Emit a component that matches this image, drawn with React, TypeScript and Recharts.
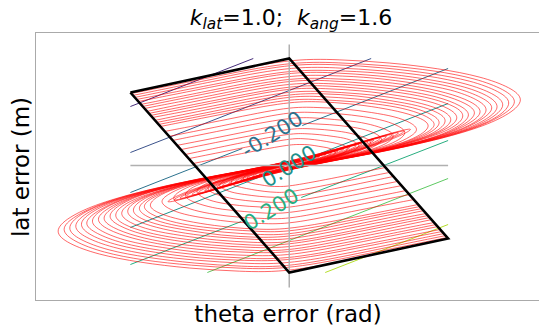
import React from 'react'
import { Scatter, ScatterChart, XAxis, YAxis } from 'recharts'

// trajectories, flat [theta, lat, theta, lat, ...]; upper family starts on the left edge
const upperTrajectories: number[][] = [
  [-1.59, 0.73, -0.8, 0.9, 0, 1.07, 0.5, 1.06, 1.0, 1.03, 1.5, 0.97, 1.92, 0.89, 2.22, 0.78, 2.36, 0.66, 2.22, 0.52, 1.92, 0.38, 1.45, 0.25, 0.95, 0.14, 0.45, 0.05, 0, -0.04, -0.5, -0.17, -1.0, -0.32, -1.32, -0.4, -1.0, -0.24, -0.5, -0.09, 0, 0.04],
  [-1.58, 0.72, -0.79, 0.88, 0, 1.04, 0.49, 1.03, 0.98, 1.0, 1.46, 0.95, 1.87, 0.87, 2.16, 0.76, 2.3, 0.64, 2.16, 0.51, 1.87, 0.37, 1.41, 0.24, 0.93, 0.14, 0.44, 0.05, 0, -0.04],
  [-1.57, 0.7, -0.78, 0.86, 0, 1.02, 0.48, 1.01, 0.95, 0.98, 1.43, 0.92, 1.82, 0.85, 2.11, 0.74, 2.24, 0.63, 2.11, 0.49, 1.82, 0.36, 1.38, 0.24, 0.9, 0.13, 0.43, 0.05, 0, -0.04, -0.48, -0.16, -0.95, -0.3, -1.25, -0.38, -0.95, -0.23, -0.48, -0.09, 0, 0.04],
  [-1.55, 0.68, -0.77, 0.84, 0, 0.99, 0.46, 0.98, 0.93, 0.95, 1.39, 0.9, 1.78, 0.82, 2.05, 0.72, 2.18, 0.61, 2.05, 0.48, 1.78, 0.35, 1.34, 0.23, 0.88, 0.13, 0.42, 0.05, 0, -0.04],
  [-1.53, 0.66, -0.76, 0.81, 0, 0.96, 0.45, 0.95, 0.9, 0.93, 1.35, 0.87, 1.73, 0.8, 2.0, 0.7, 2.12, 0.59, 2.0, 0.47, 1.73, 0.34, 1.31, 0.23, 0.86, 0.13, 0.41, 0.05, 0, -0.04, -0.45, -0.15, -0.9, -0.29, -1.19, -0.36, -0.9, -0.22, -0.45, -0.08, 0, 0.04],
  [-1.51, 0.64, -0.75, 0.79, 0, 0.94, 0.44, 0.93, 0.88, 0.9, 1.31, 0.85, 1.68, 0.78, 1.94, 0.68, 2.07, 0.58, 1.94, 0.46, 1.68, 0.33, 1.27, 0.22, 0.83, 0.12, 0.39, 0.04, 0, -0.04],
  [-1.49, 0.61, -0.74, 0.76, 0, 0.91, 0.43, 0.9, 0.85, 0.88, 1.28, 0.82, 1.63, 0.76, 1.89, 0.66, 2.01, 0.56, 1.89, 0.44, 1.63, 0.32, 1.23, 0.21, 0.81, 0.12, 0.38, 0.04, 0, -0.03, -0.43, -0.14, -0.85, -0.27, -1.12, -0.34, -0.85, -0.2, -0.43, -0.08, 0, 0.03],
  [-1.47, 0.59, -0.73, 0.74, 0, 0.88, 0.41, 0.87, 0.83, 0.85, 1.24, 0.8, 1.58, 0.73, 1.83, 0.64, 1.95, 0.54, 1.83, 0.43, 1.58, 0.31, 1.2, 0.21, 0.78, 0.12, 0.37, 0.04, 0, -0.03],
  [-1.45, 0.57, -0.72, 0.71, 0, 0.86, 0.4, 0.85, 0.8, 0.82, 1.2, 0.78, 1.54, 0.71, 1.78, 0.62, 1.89, 0.53, 1.78, 0.42, 1.54, 0.3, 1.16, 0.2, 0.76, 0.11, 0.36, 0.04, 0, -0.03, -0.4, -0.14, -0.8, -0.26, -1.06, -0.32, -0.8, -0.19, -0.4, -0.07, 0, 0.03],
  [-1.43, 0.54, -0.71, 0.69, 0, 0.83, 0.39, 0.82, 0.78, 0.8, 1.16, 0.75, 1.49, 0.69, 1.72, 0.6, 1.83, 0.51, 1.72, 0.4, 1.49, 0.29, 1.12, 0.19, 0.74, 0.11, 0.35, 0.04, 0, -0.03],
  [-1.41, 0.52, -0.7, 0.66, 0, 0.8, 0.38, 0.8, 0.75, 0.77, 1.13, 0.73, 1.44, 0.67, 1.67, 0.59, 1.77, 0.5, 1.67, 0.39, 1.44, 0.29, 1.09, 0.19, 0.71, 0.11, 0.34, 0.04, 0, -0.03, -0.38, -0.13, -0.75, -0.24, -0.99, -0.3, -0.75, -0.18, -0.38, -0.07, 0, 0.03],
  [-1.39, 0.5, -0.69, 0.64, 0, 0.78, 0.36, 0.77, 0.73, 0.75, 1.09, 0.7, 1.39, 0.65, 1.61, 0.57, 1.71, 0.48, 1.61, 0.38, 1.39, 0.28, 1.05, 0.18, 0.69, 0.1, 0.33, 0.04, 0, -0.03],
  [-1.37, 0.48, -0.68, 0.61, 0, 0.75, 0.35, 0.74, 0.7, 0.72, 1.05, 0.68, 1.34, 0.62, 1.55, 0.55, 1.65, 0.46, 1.55, 0.36, 1.34, 0.27, 1.02, 0.18, 0.67, 0.1, 0.32, 0.04, 0, -0.03, -0.35, -0.12, -0.7, -0.22, -0.92, -0.28, -0.7, -0.17, -0.35, -0.06, 0, 0.03],
  [-1.35, 0.45, -0.67, 0.59, 0, 0.72, 0.34, 0.72, 0.68, 0.7, 1.01, 0.65, 1.3, 0.6, 1.5, 0.53, 1.59, 0.45, 1.5, 0.35, 1.3, 0.26, 0.98, 0.17, 0.64, 0.09, 0.3, 0.03, 0, -0.03],
  [-1.33, 0.43, -0.66, 0.56, 0, 0.7, 0.33, 0.69, 0.65, 0.67, 0.98, 0.63, 1.25, 0.58, 1.44, 0.51, 1.53, 0.43, 1.44, 0.34, 1.25, 0.25, 0.94, 0.16, 0.62, 0.09, 0.29, 0.03, 0, -0.03, -0.33, -0.11, -0.65, -0.21, -0.86, -0.26, -0.65, -0.16, -0.33, -0.06, 0, 0.03],
  [-1.31, 0.41, -0.65, 0.54, 0, 0.67, 0.31, 0.66, 0.63, 0.64, 0.94, 0.61, 1.2, 0.56, 1.39, 0.49, 1.48, 0.41, 1.39, 0.33, 1.2, 0.24, 0.91, 0.16, 0.59, 0.09, 0.28, 0.03, 0, -0.03],
  [-1.29, 0.39, -0.64, 0.52, 0, 0.64, 0.3, 0.64, 0.6, 0.62, 0.9, 0.58, 1.15, 0.53, 1.33, 0.47, 1.42, 0.4, 1.33, 0.31, 1.15, 0.23, 0.87, 0.15, 0.57, 0.08, 0.27, 0.03, 0, -0.02, -0.3, -0.1, -0.6, -0.19, -0.79, -0.24, -0.6, -0.14, -0.3, -0.05, 0, 0.02],
  [-1.25, 0.34, -0.62, 0.46, 0, 0.59, 0.28, 0.58, 0.55, 0.57, 0.83, 0.53, 1.06, 0.49, 1.22, 0.43, 1.3, 0.36, 1.22, 0.29, 1.06, 0.21, 0.8, 0.14, 0.52, 0.08, 0.25, 0.03, 0, -0.02, -0.28, -0.09, -0.55, -0.18, -0.73, -0.22, -0.55, -0.13, -0.28, -0.05, 0, 0.02],
  [-1.21, 0.29, -0.6, 0.41, 0, 0.54, 0.25, 0.53, 0.5, 0.52, 0.75, 0.49, 0.96, 0.45, 1.11, 0.39, 1.18, 0.33, 1.11, 0.26, 0.96, 0.19, 0.73, 0.13, 0.48, 0.07, 0.23, 0.03, 0, -0.02, -0.25, -0.09, -0.5, -0.16, -0.66, -0.2, -0.5, -0.12, -0.25, -0.05, 0, 0.02],
  [-1.17, 0.25, -0.58, 0.37, 0, 0.48, 0.23, 0.48, 0.45, 0.46, 0.68, 0.44, 0.86, 0.4, 1.0, 0.35, 1.06, 0.3, 1.0, 0.23, 0.86, 0.17, 0.65, 0.11, 0.43, 0.06, 0.2, 0.02, 0, -0.02, -0.23, -0.08, -0.45, -0.14, -0.59, -0.18, -0.45, -0.11, -0.23, -0.04, 0, 0.02],
  [-1.13, 0.2, -0.56, 0.31, 0, 0.43, 0.2, 0.42, 0.4, 0.41, 0.6, 0.39, 0.77, 0.36, 0.89, 0.31, 0.94, 0.26, 0.89, 0.21, 0.77, 0.15, 0.58, 0.1, 0.38, 0.06, 0.18, 0.02, 0, -0.02, -0.2, -0.07, -0.4, -0.13, -0.53, -0.16, -0.4, -0.1, -0.2, -0.04, 0, 0.02],
  [-1.08, 0.16, -0.54, 0.27, 0, 0.37, 0.18, 0.37, 0.35, 0.36, 0.53, 0.34, 0.67, 0.31, 0.78, 0.27, 0.83, 0.23, 0.78, 0.18, 0.67, 0.13, 0.51, 0.09, 0.33, 0.05, 0.16, 0.02, 0, -0.01, -0.18, -0.06, -0.35, -0.11, -0.46, -0.14, -0.35, -0.08, -0.18, -0.03, 0, 0.01],
  [-1.04, 0.11, -0.52, 0.22, 0, 0.32, 0.15, 0.32, 0.3, 0.31, 0.45, 0.29, 0.58, 0.27, 0.67, 0.23, 0.71, 0.2, 0.67, 0.16, 0.58, 0.11, 0.44, 0.08, 0.29, 0.04, 0.14, 0.02, 0, -0.01, -0.15, -0.05, -0.3, -0.1, -0.4, -0.12, -0.3, -0.07, -0.15, -0.03, 0, 0.01],
  [-1.0, 0.07, -0.5, 0.17, 0, 0.27, 0.13, 0.27, 0.25, 0.26, 0.38, 0.24, 0.48, 0.22, 0.56, 0.2, 0.59, 0.17, 0.56, 0.13, 0.48, 0.1, 0.36, 0.06, 0.24, 0.04, 0.11, 0.01, 0, -0.01, -0.13, -0.04, -0.25, -0.08, -0.33, -0.1, -0.25, -0.06, -0.13, -0.02, 0, 0.01],
  [-0.96, 0.02, -0.48, 0.12, 0, 0.21, 0.1, 0.21, 0.2, 0.21, 0.3, 0.19, 0.38, 0.18, 0.44, 0.16, 0.47, 0.13, 0.44, 0.1, 0.38, 0.08, 0.29, 0.05, 0.19, 0.03, 0.09, 0.01, 0, -0.01, -0.1, -0.03, -0.2, -0.06, -0.26, -0.08, -0.2, -0.05, -0.1, -0.02, 0, 0.01]
]

// lower family starts on the right edge
const lowerTrajectories: number[][] = [
  [1.59, -0.73, 0.8, -0.9, 0, -1.07, -0.5, -1.06, -1.0, -1.03, -1.5, -0.97, -1.92, -0.89, -2.22, -0.78, -2.36, -0.66, -2.22, -0.52, -1.92, -0.38, -1.45, -0.25, -0.95, -0.14, -0.45, -0.05, 0, 0.04, 0.5, 0.17, 1.0, 0.32, 1.32, 0.4, 1.0, 0.24, 0.5, 0.09, 0, -0.04],
  [1.58, -0.72, 0.79, -0.88, 0, -1.04, -0.49, -1.03, -0.98, -1.0, -1.46, -0.95, -1.87, -0.87, -2.16, -0.76, -2.3, -0.64, -2.16, -0.51, -1.87, -0.37, -1.41, -0.24, -0.93, -0.14, -0.44, -0.05, 0, 0.04],
  [1.57, -0.7, 0.78, -0.86, 0, -1.02, -0.48, -1.01, -0.95, -0.98, -1.43, -0.92, -1.82, -0.85, -2.11, -0.74, -2.24, -0.63, -2.11, -0.49, -1.82, -0.36, -1.38, -0.24, -0.9, -0.13, -0.43, -0.05, 0, 0.04, 0.48, 0.16, 0.95, 0.3, 1.25, 0.38, 0.95, 0.23, 0.48, 0.09, 0, -0.04],
  [1.55, -0.68, 0.77, -0.84, 0, -0.99, -0.46, -0.98, -0.93, -0.95, -1.39, -0.9, -1.78, -0.82, -2.05, -0.72, -2.18, -0.61, -2.05, -0.48, -1.78, -0.35, -1.34, -0.23, -0.88, -0.13, -0.42, -0.05, 0, 0.04],
  [1.53, -0.66, 0.76, -0.81, 0, -0.96, -0.45, -0.95, -0.9, -0.93, -1.35, -0.87, -1.73, -0.8, -2.0, -0.7, -2.12, -0.59, -2.0, -0.47, -1.73, -0.34, -1.31, -0.23, -0.86, -0.13, -0.41, -0.05, 0, 0.04, 0.45, 0.15, 0.9, 0.29, 1.19, 0.36, 0.9, 0.22, 0.45, 0.08, 0, -0.04],
  [1.51, -0.64, 0.75, -0.79, 0, -0.94, -0.44, -0.93, -0.88, -0.9, -1.31, -0.85, -1.68, -0.78, -1.94, -0.68, -2.07, -0.58, -1.94, -0.46, -1.68, -0.33, -1.27, -0.22, -0.83, -0.12, -0.39, -0.04, 0, 0.04],
  [1.49, -0.61, 0.74, -0.76, 0, -0.91, -0.43, -0.9, -0.85, -0.88, -1.28, -0.82, -1.63, -0.76, -1.89, -0.66, -2.01, -0.56, -1.89, -0.44, -1.63, -0.32, -1.23, -0.21, -0.81, -0.12, -0.38, -0.04, 0, 0.03, 0.43, 0.14, 0.85, 0.27, 1.12, 0.34, 0.85, 0.2, 0.43, 0.08, 0, -0.03],
  [1.47, -0.59, 0.73, -0.74, 0, -0.88, -0.41, -0.87, -0.83, -0.85, -1.24, -0.8, -1.58, -0.73, -1.83, -0.64, -1.95, -0.54, -1.83, -0.43, -1.58, -0.31, -1.2, -0.21, -0.78, -0.12, -0.37, -0.04, 0, 0.03],
  [1.45, -0.57, 0.72, -0.71, 0, -0.86, -0.4, -0.85, -0.8, -0.82, -1.2, -0.78, -1.54, -0.71, -1.78, -0.62, -1.89, -0.53, -1.78, -0.42, -1.54, -0.3, -1.16, -0.2, -0.76, -0.11, -0.36, -0.04, 0, 0.03, 0.4, 0.14, 0.8, 0.26, 1.06, 0.32, 0.8, 0.19, 0.4, 0.07, 0, -0.03],
  [1.43, -0.54, 0.71, -0.69, 0, -0.83, -0.39, -0.82, -0.78, -0.8, -1.16, -0.75, -1.49, -0.69, -1.72, -0.6, -1.83, -0.51, -1.72, -0.4, -1.49, -0.29, -1.12, -0.19, -0.74, -0.11, -0.35, -0.04, 0, 0.03],
  [1.41, -0.52, 0.7, -0.66, 0, -0.8, -0.38, -0.8, -0.75, -0.77, -1.13, -0.73, -1.44, -0.67, -1.67, -0.59, -1.77, -0.5, -1.67, -0.39, -1.44, -0.29, -1.09, -0.19, -0.71, -0.11, -0.34, -0.04, 0, 0.03, 0.38, 0.13, 0.75, 0.24, 0.99, 0.3, 0.75, 0.18, 0.38, 0.07, 0, -0.03],
  [1.39, -0.5, 0.69, -0.64, 0, -0.78, -0.36, -0.77, -0.73, -0.75, -1.09, -0.7, -1.39, -0.65, -1.61, -0.57, -1.71, -0.48, -1.61, -0.38, -1.39, -0.28, -1.05, -0.18, -0.69, -0.1, -0.33, -0.04, 0, 0.03],
  [1.37, -0.48, 0.68, -0.61, 0, -0.75, -0.35, -0.74, -0.7, -0.72, -1.05, -0.68, -1.34, -0.62, -1.55, -0.55, -1.65, -0.46, -1.55, -0.36, -1.34, -0.27, -1.02, -0.18, -0.67, -0.1, -0.32, -0.04, 0, 0.03, 0.35, 0.12, 0.7, 0.22, 0.92, 0.28, 0.7, 0.17, 0.35, 0.06, 0, -0.03],
  [1.35, -0.45, 0.67, -0.59, 0, -0.72, -0.34, -0.72, -0.68, -0.7, -1.01, -0.65, -1.3, -0.6, -1.5, -0.53, -1.59, -0.45, -1.5, -0.35, -1.3, -0.26, -0.98, -0.17, -0.64, -0.09, -0.3, -0.03, 0, 0.03],
  [1.33, -0.43, 0.66, -0.56, 0, -0.7, -0.33, -0.69, -0.65, -0.67, -0.98, -0.63, -1.25, -0.58, -1.44, -0.51, -1.53, -0.43, -1.44, -0.34, -1.25, -0.25, -0.94, -0.16, -0.62, -0.09, -0.29, -0.03, 0, 0.03, 0.33, 0.11, 0.65, 0.21, 0.86, 0.26, 0.65, 0.16, 0.33, 0.06, 0, -0.03],
  [1.31, -0.41, 0.65, -0.54, 0, -0.67, -0.31, -0.66, -0.63, -0.64, -0.94, -0.61, -1.2, -0.56, -1.39, -0.49, -1.48, -0.41, -1.39, -0.33, -1.2, -0.24, -0.91, -0.16, -0.59, -0.09, -0.28, -0.03, 0, 0.03],
  [1.29, -0.39, 0.64, -0.52, 0, -0.64, -0.3, -0.64, -0.6, -0.62, -0.9, -0.58, -1.15, -0.53, -1.33, -0.47, -1.42, -0.4, -1.33, -0.31, -1.15, -0.23, -0.87, -0.15, -0.57, -0.08, -0.27, -0.03, 0, 0.02, 0.3, 0.1, 0.6, 0.19, 0.79, 0.24, 0.6, 0.14, 0.3, 0.05, 0, -0.02],
  [1.25, -0.34, 0.62, -0.46, 0, -0.59, -0.28, -0.58, -0.55, -0.57, -0.83, -0.53, -1.06, -0.49, -1.22, -0.43, -1.3, -0.36, -1.22, -0.29, -1.06, -0.21, -0.8, -0.14, -0.52, -0.08, -0.25, -0.03, 0, 0.02, 0.28, 0.09, 0.55, 0.18, 0.73, 0.22, 0.55, 0.13, 0.28, 0.05, 0, -0.02],
  [1.21, -0.29, 0.6, -0.41, 0, -0.54, -0.25, -0.53, -0.5, -0.52, -0.75, -0.49, -0.96, -0.45, -1.11, -0.39, -1.18, -0.33, -1.11, -0.26, -0.96, -0.19, -0.73, -0.13, -0.48, -0.07, -0.23, -0.03, 0, 0.02, 0.25, 0.09, 0.5, 0.16, 0.66, 0.2, 0.5, 0.12, 0.25, 0.05, 0, -0.02],
  [1.17, -0.25, 0.58, -0.37, 0, -0.48, -0.23, -0.48, -0.45, -0.46, -0.68, -0.44, -0.86, -0.4, -1.0, -0.35, -1.06, -0.3, -1.0, -0.23, -0.86, -0.17, -0.65, -0.11, -0.43, -0.06, -0.2, -0.02, 0, 0.02, 0.23, 0.08, 0.45, 0.14, 0.59, 0.18, 0.45, 0.11, 0.23, 0.04, 0, -0.02],
  [1.13, -0.2, 0.56, -0.31, 0, -0.43, -0.2, -0.42, -0.4, -0.41, -0.6, -0.39, -0.77, -0.36, -0.89, -0.31, -0.94, -0.26, -0.89, -0.21, -0.77, -0.15, -0.58, -0.1, -0.38, -0.06, -0.18, -0.02, 0, 0.02, 0.2, 0.07, 0.4, 0.13, 0.53, 0.16, 0.4, 0.1, 0.2, 0.04, 0, -0.02],
  [1.08, -0.16, 0.54, -0.27, 0, -0.37, -0.18, -0.37, -0.35, -0.36, -0.53, -0.34, -0.67, -0.31, -0.78, -0.27, -0.83, -0.23, -0.78, -0.18, -0.67, -0.13, -0.51, -0.09, -0.33, -0.05, -0.16, -0.02, 0, 0.01, 0.18, 0.06, 0.35, 0.11, 0.46, 0.14, 0.35, 0.08, 0.18, 0.03, 0, -0.01],
  [1.04, -0.11, 0.52, -0.22, 0, -0.32, -0.15, -0.32, -0.3, -0.31, -0.45, -0.29, -0.58, -0.27, -0.67, -0.23, -0.71, -0.2, -0.67, -0.16, -0.58, -0.11, -0.44, -0.08, -0.29, -0.04, -0.14, -0.02, 0, 0.01, 0.15, 0.05, 0.3, 0.1, 0.4, 0.12, 0.3, 0.07, 0.15, 0.03, 0, -0.01],
  [1.0, -0.07, 0.5, -0.17, 0, -0.27, -0.13, -0.27, -0.25, -0.26, -0.38, -0.24, -0.48, -0.22, -0.56, -0.2, -0.59, -0.17, -0.56, -0.13, -0.48, -0.1, -0.36, -0.06, -0.24, -0.04, -0.11, -0.01, 0, 0.01, 0.13, 0.04, 0.25, 0.08, 0.33, 0.1, 0.25, 0.06, 0.13, 0.02, 0, -0.01],
  [0.96, -0.02, 0.48, -0.12, 0, -0.21, -0.1, -0.21, -0.2, -0.21, -0.3, -0.19, -0.38, -0.18, -0.44, -0.16, -0.47, -0.13, -0.44, -0.1, -0.38, -0.08, -0.29, -0.05, -0.19, -0.03, -0.09, -0.01, 0, 0.01, 0.1, 0.03, 0.2, 0.06, 0.26, 0.08, 0.2, 0.05, 0.1, 0.02, 0, -0.01]
]

// boundary of the region
const boundaryTheta = [-1.59, 0, 1.59, 0, -1.59]
const boundaryLat = [0.73, 1.07, -0.73, -1.07, 0.73]

// contour segments [theta1, lat1, theta2, lat2], broken where a label sits
const contourSegments: number[][] = [
  [-1.59, 0.59, -0.36, 1.07],
  [-1.59, 0.13, 0.82, 1.07],
  [-1.59, -0.27, -0.47, 0.17],
  [0.13, 0.4, 1.59, 0.97],
  [-1.59, -0.62, -0.31, -0.12],
  [0.31, 0.12, 1.59, 0.62],
  [-1.59, -0.99, -0.48, -0.56],
  [0.12, -0.32, 1.59, 0.25],
  [-0.82, -1.07, 1.59, -0.13],
  [0.36, -1.07, 1.59, -0.59]
]
const contourSegmentLevel = [0, 1, 2, 2, 3, 3, 4, 4, 5, 6]

const contourLabels = ['-0.200', '0.000', '0.200']
const contourLabelTheta = [-0.17, 0, -0.18]
const contourLabelLat = [0.31, -0.01, -0.44]
const contourLabelLevel = [2, 3, 4]

const levelColors = ['#472d7b', '#3b528b', '#2c728e', '#21918c', '#28ae80', '#5ec962', '#b5de2b']

const toPoints = (flat: number[]) => {
  const pts: { x: number; y: number }[] = []
  for (let i = 0; i < flat.length; i += 2) pts.push({ x: flat[i], y: flat[i + 1] })
  return pts
}

const NoDot = () => null

const trajectoryLine = { stroke: '#ff0000', strokeWidth: 0.8, strokeOpacity: 0.75 }

const labelData = contourLabels.map((text, i) => ({
  x: contourLabelTheta[i],
  y: contourLabelLat[i],
  text,
  level: contourLabelLevel[i]
}))

const LabelShape = (props: any) => {
  const { cx, cy, payload } = props
  return (
    <text
      x={cx}
      y={cy}
      transform={`rotate(-32 ${cx} ${cy})`}
      textAnchor="middle"
      dominantBaseline="central"
      fontFamily="DejaVu Sans"
      fontSize={21}
      fill={levelColors[payload.level]}
    >
      {payload.text}
    </text>
  )
}

export default function App() {
  const trajectories = [...upperTrajectories, ...lowerTrajectories]
  return (
    <div
      style={{
        position: 'absolute',
        left: 0,
        top: 0,
        width: 539,
        height: 330,
        overflow: 'hidden',
        background: '#fff',
        fontFamily: 'DejaVu Sans'
      }}
    >
      <div
        style={{
          position: 'absolute',
          left: 35,
          top: 32,
          width: 600,
          height: 269,
          boxSizing: 'border-box',
          borderLeft: '1px solid #aaaaaa',
          borderTop: '1px solid #aaaaaa',
          borderBottom: '1px solid #aaaaaa'
        }}
      />
      <div style={{ position: 'absolute', left: 0, top: 0 }}>
        <ScatterChart width={543} height={330} margin={{ top: 31.5, right: 0, bottom: 30.5, left: 35.5 }}>
          <XAxis type="number" dataKey="x" domain={[-2.54, 2.54]} allowDataOverflow hide />
          <YAxis type="number" dataKey="y" domain={[-1.34, 1.34]} allowDataOverflow hide />
          {contourSegments.map((seg, i) => (
            <Scatter
              key={`c${i}`}
              data={toPoints(seg)}
              shape={NoDot}
              line={{ stroke: levelColors[contourSegmentLevel[i]], strokeWidth: 1 }}
              isAnimationActive={false}
            />
          ))}
          {trajectories.map((t, i) => (
            <Scatter
              key={`t${i}`}
              data={toPoints(t)}
              shape={NoDot}
              line={trajectoryLine}
              lineJointType="basis"
              isAnimationActive={false}
            />
          ))}
          <Scatter
            data={[{ x: 0, y: -1.22 }, { x: 0, y: 1.21 }]}
            shape={NoDot}
            line={{ stroke: '#b0b0b0', strokeWidth: 1.5 }}
            isAnimationActive={false}
          />
          <Scatter
            data={[{ x: -1.59, y: 0 }, { x: 1.59, y: 0 }]}
            shape={NoDot}
            line={{ stroke: '#b0b0b0', strokeWidth: 1.5 }}
            isAnimationActive={false}
          />
          <Scatter
            data={boundaryTheta.map((x, i) => ({ x, y: boundaryLat[i] }))}
            shape={NoDot}
            line={{ stroke: '#000000', strokeWidth: 2.6, strokeLinejoin: 'miter' }}
            isAnimationActive={false}
          />
          <Scatter data={labelData} shape={LabelShape} isAnimationActive={false} />
        </ScatterChart>
      </div>
      <svg width={539} height={330} style={{ position: 'absolute', left: 0, top: 0, pointerEvents: 'none' }}>
        <text x={291} y={25} textAnchor="middle" fontFamily="DejaVu Sans" fontSize={22} fill="#000" style={{ whiteSpace: 'pre' }}>
          <tspan fontStyle="italic">k</tspan>
          <tspan fontStyle="italic" fontSize={15.4} dy={4}>lat</tspan>
          <tspan dy={-4}>{'=1.0;  '}</tspan>
          <tspan fontStyle="italic">k</tspan>
          <tspan fontStyle="italic" fontSize={15.4} dy={4}>ang</tspan>
          <tspan dy={-4}>=1.6</tspan>
        </text>
        <text x={288} y={322} textAnchor="middle" fontFamily="DejaVu Sans" fontSize={23} fill="#000">
          theta error (rad)
        </text>
        <text transform="translate(29,167) rotate(-90)" textAnchor="middle" fontFamily="DejaVu Sans" fontSize={23} fill="#000">
          lat error (m)
        </text>
      </svg>
    </div>
  )
}
